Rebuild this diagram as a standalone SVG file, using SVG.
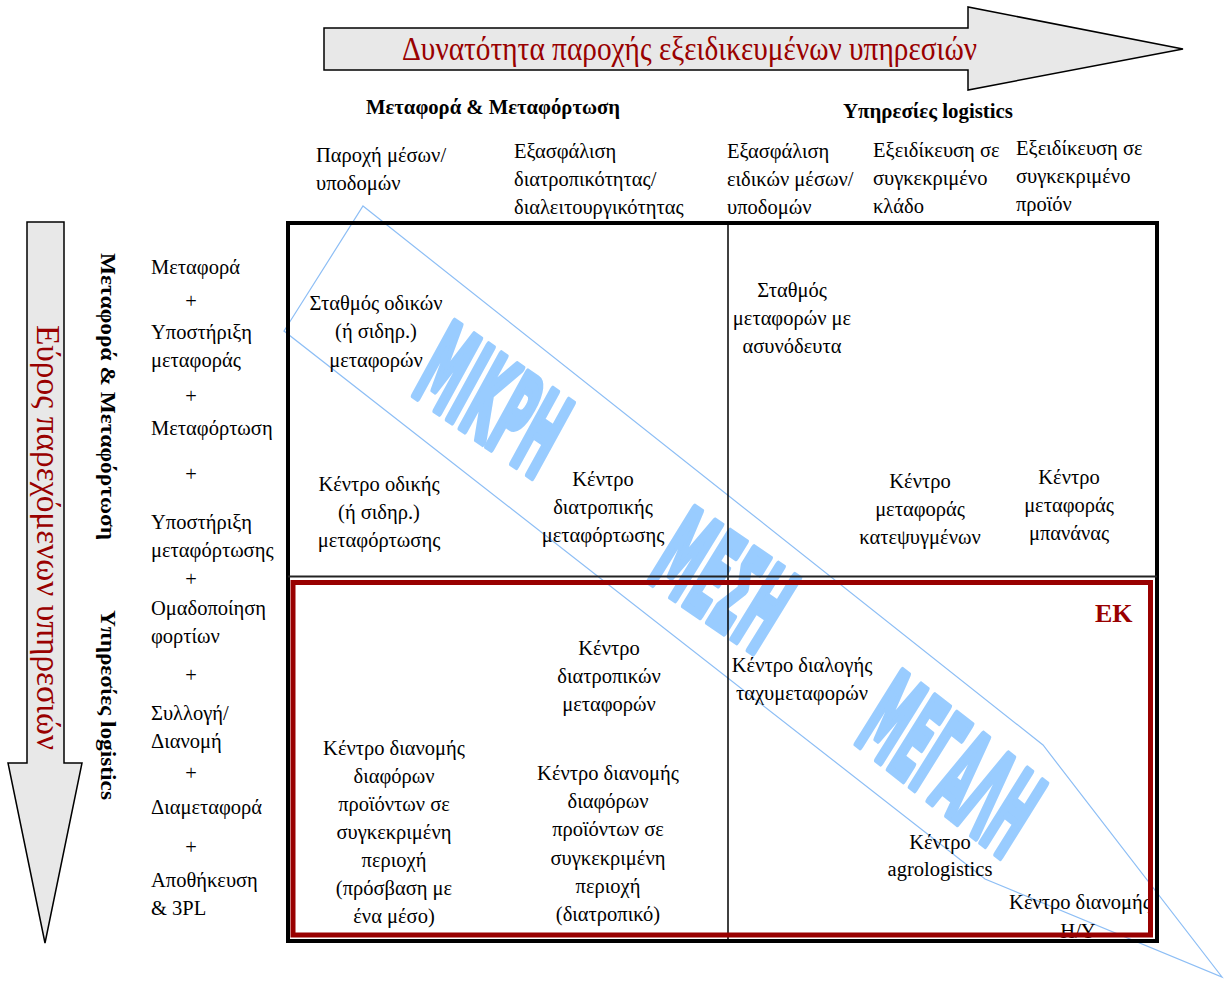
<svg xmlns="http://www.w3.org/2000/svg" width="1227" height="982" viewBox="0 0 1227 982">
<style>
.t{font-family:"Liberation Serif","DejaVu Serif Condensed","DejaVu Serif",serif;font-stretch:condensed;font-size:20.5px;fill:#000}
.c{text-anchor:middle}
.b{font-weight:bold}
.red{fill:#990000}
.arrow{fill:#E8E8E8;stroke:#000;stroke-width:1.5}
.big{font-family:"DejaVu Sans",sans-serif;font-weight:bold;font-size:100px;fill:#99CCFF;stroke:#99CCFF;stroke-width:7;stroke-linejoin:round}
</style>
<rect width="1227" height="982" fill="#fff"/>
<g id="top-arrow">
<polygon class="arrow" points="324,28 968,28 968,7 1183,49 968,90 968,70 324,70"/>
<text class="t red" x="402" y="60" style="font-size:33px" textLength="575" lengthAdjust="spacingAndGlyphs">Δυνατότητα παροχής εξειδικευμένων υπηρεσιών</text>
</g>
<g id="left-arrow">
<polygon class="arrow" points="27,222 64,222 64,763 82,763 45,943 8,763 27,763"/>
<text class="t red" transform="translate(37,325) rotate(90)" style="font-size:34px" textLength="425" lengthAdjust="spacingAndGlyphs">Εύρος παρεχόμενων υπηρεσιών</text>
</g>
<g id="connectors">
<polygon points="363,206 1043,745 1222,977 985,879 284,331" fill="none" stroke="#8DBEF5" stroke-width="1.2"/>
</g>
<g id="band-labels">
<text class="big" transform="matrix(0.342 0.237 -0.549 1.001 410 392)" textLength="371" lengthAdjust="spacingAndGlyphs">ΜΙΚΡΗ</text>
<text class="big" transform="matrix(0.353 0.241 -0.617 1.001 645 578)" textLength="320" lengthAdjust="spacingAndGlyphs">ΜΕΣΗ</text>
<text class="big" transform="matrix(0.323 0.255 -0.617 0.988 853 740)" textLength="470" lengthAdjust="spacingAndGlyphs">ΜΕΓΑΛΗ</text>
</g>
<g id="frame">
<rect x="288" y="223" width="869" height="718" fill="none" stroke="#000" stroke-width="4"/>
<line x1="728" y1="223" x2="728" y2="941" stroke="#000" stroke-width="1.5"/>
<line x1="288" y1="576.5" x2="1157" y2="576.5" stroke="#222" stroke-width="2.2"/>
</g>
<g id="headers">
<text class="t b c" x="493" y="114" textLength="254" lengthAdjust="spacingAndGlyphs">Μεταφορά &amp; Μεταφόρτωση</text>
<text class="t b c" x="928" y="118" textLength="170" lengthAdjust="spacingAndGlyphs">Υπηρεσίες logistics</text>
<text class="t b" transform="translate(101,253) rotate(90)" textLength="287" lengthAdjust="spacingAndGlyphs">Μεταφορά &amp; Μεταφόρτωση</text>
<text class="t b" transform="translate(101,610) rotate(90)" textLength="190" lengthAdjust="spacingAndGlyphs">Υπηρεσίες logistics</text>
</g>
<g id="col1"><text class="t" x="316" y="162">Παροχή μέσων/</text><text class="t" x="316" y="190">υποδομών</text></g>
<g id="col2"><text class="t" x="514" y="158">Εξασφάλιση</text><text class="t" x="514" y="186">διατροπικότητας/</text><text class="t" x="514" y="214">διαλειτουργικότητας</text></g>
<g id="col3"><text class="t" x="727" y="158">Εξασφάλιση</text><text class="t" x="727" y="186">ειδικών μέσων/</text><text class="t" x="727" y="214">υποδομών</text></g>
<g id="col4"><text class="t" x="873" y="157">Εξειδίκευση σε</text><text class="t" x="873" y="185">συγκεκριμένο</text><text class="t" x="873" y="213">κλάδο</text></g>
<g id="col5"><text class="t" x="1016" y="155">Εξειδίκευση σε</text><text class="t" x="1016" y="183">συγκεκριμένο</text><text class="t" x="1016" y="211">προϊόν</text></g>
<g id="rows">
<text class="t" x="151" y="274">Μεταφορά</text>
<text class="t c" x="191" y="308">+</text>
<text class="t" x="151" y="339">Υποστήριξη</text>
<text class="t" x="151" y="367">μεταφοράς</text>
<text class="t c" x="191" y="403">+</text>
<text class="t" x="151" y="435">Μεταφόρτωση</text>
<text class="t c" x="191" y="481">+</text>
<text class="t" x="151" y="529">Υποστήριξη</text>
<text class="t" x="151" y="557">μεταφόρτωσης</text>
<text class="t c" x="191" y="586">+</text>
<text class="t" x="151" y="615">Ομαδοποίηση</text>
<text class="t" x="151" y="643">φορτίων</text>
<text class="t c" x="191" y="682">+</text>
<text class="t" x="151" y="720">Συλλογή/</text>
<text class="t" x="151" y="748">Διανομή</text>
<text class="t c" x="191" y="780">+</text>
<text class="t" x="151" y="814">Διαμεταφορά</text>
<text class="t c" x="191" y="854">+</text>
<text class="t" x="151" y="887">Αποθήκευση</text>
<text class="t" x="151" y="915">&amp; 3PL</text>
</g>
<g id="n1"><text class="t c" x="376" y="310">Σταθμός οδικών</text><text class="t c" x="376" y="338">(ή σιδηρ.)</text><text class="t c" x="376" y="367">μεταφορών</text></g>
<g id="n2"><text class="t c" x="792" y="297">Σταθμός</text><text class="t c" x="792" y="325">μεταφορών με</text><text class="t c" x="792" y="353">ασυνόδευτα</text></g>
<g id="n3"><text class="t c" x="379" y="491">Κέντρο οδικής</text><text class="t c" x="379" y="519">(ή σιδηρ.)</text><text class="t c" x="379" y="547">μεταφόρτωσης</text></g>
<g id="n4"><text class="t c" x="603" y="486">Κέντρο</text><text class="t c" x="603" y="514">διατροπικής</text><text class="t c" x="603" y="542">μεταφόρτωσης</text></g>
<g id="n5"><text class="t c" x="920" y="488">Κέντρο</text><text class="t c" x="920" y="516">μεταφοράς</text><text class="t c" x="920" y="544">κατεψυγμένων</text></g>
<g id="n6"><text class="t c" x="1069" y="484">Κέντρο</text><text class="t c" x="1069" y="512">μεταφοράς</text><text class="t c" x="1069" y="540">μπανάνας</text></g>
<g id="n7"><text class="t c" x="609" y="655">Κέντρο</text><text class="t c" x="609" y="683">διατροπικών</text><text class="t c" x="609" y="711">μεταφορών</text></g>
<g id="n8"><text class="t c" x="802" y="672">Κέντρο διαλογής</text><text class="t c" x="802" y="700">ταχυμεταφορών</text></g>
<g id="n9"><text class="t c" x="394" y="755">Κέντρο διανομής</text><text class="t c" x="394" y="783">διαφόρων</text><text class="t c" x="394" y="811">προϊόντων σε</text><text class="t c" x="394" y="839">συγκεκριμένη</text><text class="t c" x="394" y="867">περιοχή</text><text class="t c" x="394" y="895">(πρόσβαση με</text><text class="t c" x="394" y="923">ένα μέσο)</text></g>
<g id="n10"><text class="t c" x="608" y="780">Κέντρο διανομής</text><text class="t c" x="608" y="808">διαφόρων</text><text class="t c" x="608" y="836">προϊόντων σε</text><text class="t c" x="608" y="865">συγκεκριμένη</text><text class="t c" x="608" y="893">περιοχή</text><text class="t c" x="608" y="921">(διατροπικό)</text></g>
<g id="n11"><text class="t c" x="940" y="849">Κέντρο</text><text class="t c" x="940" y="876">agrologistics</text></g>
<g id="n12"><text class="t c" x="1080" y="909">Κέντρο διανομής</text><text class="t c" x="1078" y="938">Η/Υ</text></g>
<g id="ek">
<rect x="293" y="582.5" width="857.5" height="352.5" fill="none" stroke="#990000" stroke-width="5"/>
<text class="t b red" x="1095" y="622" style="font-size:26px">ΕΚ</text>
</g>
</svg>
